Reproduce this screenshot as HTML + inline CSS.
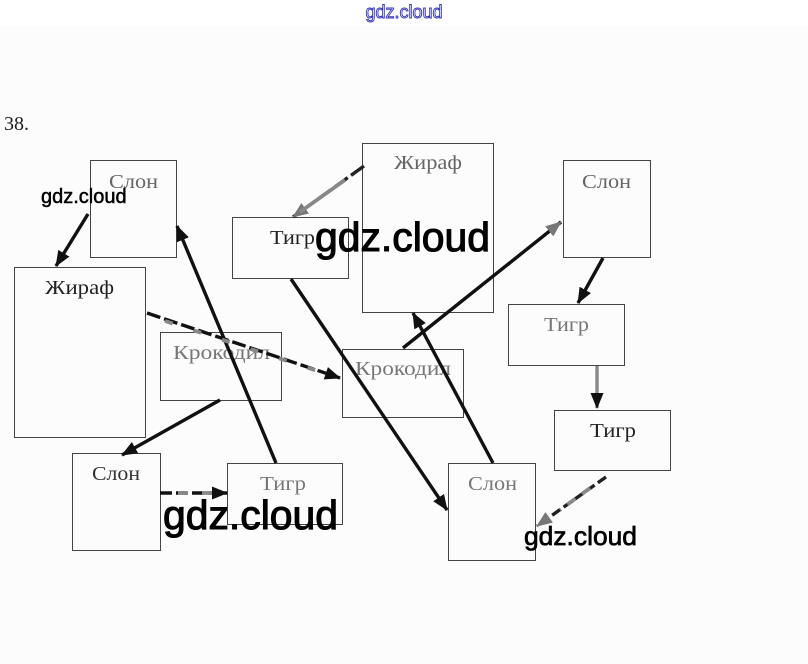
<!DOCTYPE html>
<html><head><meta charset="utf-8"><style>
html,body{margin:0;padding:0;}
body{width:808px;height:664px;overflow:hidden;background:#fcfcfc;}
svg{display:block;}
</style></head><body>
<svg width="808" height="664" viewBox="0 0 808 664" xmlns="http://www.w3.org/2000/svg">
<defs>
<marker id="ah" viewBox="0 0 16 13" refX="15" refY="6.5" markerWidth="16" markerHeight="13" markerUnits="userSpaceOnUse" orient="auto">
<path d="M0,0 L16,6.5 L0,13 z" fill="#111"/>
</marker>
<marker id="ahg" viewBox="0 0 16 13" refX="15" refY="6.5" markerWidth="16" markerHeight="13" markerUnits="userSpaceOnUse" orient="auto">
<path d="M0,0 L16,6.5 L0,13 z" fill="#777"/>
</marker>
</defs>
<rect x="0" y="0" width="808" height="26" fill="#ffffff"/>
<text x="404" y="18" text-anchor="middle" font-family="Liberation Sans, sans-serif" font-size="18" fill="#ffffff" stroke="#3030c0" stroke-width="0.9">gdz.cloud</text>

<text x="4" y="130" font-family="Liberation Serif, serif" font-size="20" fill="#222">38.</text>

<g fill="none" stroke="#444" stroke-width="1">
<rect x="90.5" y="160.5" width="86" height="97"/>
<rect x="14.5" y="267.5" width="131" height="170"/>
<rect x="232.5" y="217.5" width="116" height="61"/>
<rect x="362.5" y="143.5" width="131" height="169"/>
<rect x="563.5" y="160.5" width="87" height="97"/>
<rect x="160.5" y="332.5" width="121" height="68"/>
<rect x="342.5" y="349.5" width="121" height="68"/>
<rect x="508.5" y="304.5" width="116" height="61"/>
<rect x="554.5" y="410.5" width="116" height="60"/>
<rect x="72.5" y="453.5" width="88" height="97"/>
<rect x="227.5" y="463.5" width="115" height="61"/>
<rect x="448.5" y="463.5" width="87" height="97"/>
</g>

<g font-family="Liberation Serif, serif" font-size="20">
<text x="109" y="188" textLength="49" lengthAdjust="spacingAndGlyphs" fill="#666">Слон</text>
<text x="45" y="294" textLength="69" lengthAdjust="spacingAndGlyphs" fill="#222">Жираф</text>
<text x="270" y="244" textLength="45" lengthAdjust="spacingAndGlyphs" fill="#222">Тигр</text>
<text x="394" y="169" textLength="68" lengthAdjust="spacingAndGlyphs" fill="#666">Жираф</text>
<text x="582" y="188" textLength="49" lengthAdjust="spacingAndGlyphs" fill="#666">Слон</text>
<text x="173" y="359" textLength="97" lengthAdjust="spacingAndGlyphs" fill="#777">Крокодил</text>
<text x="355" y="375" textLength="96" lengthAdjust="spacingAndGlyphs" fill="#777">Крокодил</text>
<text x="544" y="331" textLength="45" lengthAdjust="spacingAndGlyphs" fill="#777">Тигр</text>
<text x="590" y="437" textLength="46" lengthAdjust="spacingAndGlyphs" fill="#222">Тигр</text>
<text x="92" y="480" textLength="48" lengthAdjust="spacingAndGlyphs" fill="#333">Слон</text>
<text x="260" y="490" textLength="46" lengthAdjust="spacingAndGlyphs" fill="#777">Тигр</text>
<text x="468" y="490" textLength="49" lengthAdjust="spacingAndGlyphs" fill="#777">Слон</text>
</g>

<g stroke-width="3.4" fill="none" stroke-linecap="butt">
<line x1="88" y1="214" x2="56" y2="266" stroke="#111" marker-end="url(#ah)"/>
<line x1="276" y1="463" x2="177" y2="226" stroke="#111" marker-end="url(#ah)"/>
<line x1="147" y1="313" x2="340" y2="378" stroke="#111" stroke-dasharray="14,4" marker-end="url(#ah)"/>
<line x1="165" y1="321" x2="330" y2="375" stroke="#888" stroke-dasharray="8,22" stroke-width="3.8"/>
<line x1="220" y1="400" x2="122" y2="455" stroke="#111" marker-end="url(#ah)"/>
<line x1="160" y1="493" x2="227" y2="493" stroke="#111" stroke-dasharray="12,4" marker-end="url(#ah)"/>
<line x1="178" y1="493" x2="215" y2="493" stroke="#888" stroke-dasharray="10,14" stroke-width="3.8"/>
<line x1="364" y1="166" x2="293" y2="217" stroke="#222" stroke-dasharray="16,4" marker-end="url(#ahg)"/>
<line x1="345" y1="180" x2="300" y2="212" stroke="#888" stroke-width="3.8"/>
<line x1="291" y1="279" x2="447" y2="510" stroke="#111" marker-end="url(#ah)"/>
<line x1="403" y1="348" x2="561" y2="222" stroke="#111" marker-end="url(#ahg)"/>
<line x1="493" y1="463" x2="413" y2="313" stroke="#111" marker-end="url(#ah)"/>
<line x1="603" y1="258" x2="578" y2="303" stroke="#111" marker-end="url(#ah)"/>
<line x1="597" y1="366" x2="597" y2="408" stroke="#888" marker-end="url(#ah)"/>
<line x1="606" y1="477" x2="537" y2="526" stroke="#222" stroke-dasharray="10,4" marker-end="url(#ahg)"/>
<line x1="590" y1="488" x2="560" y2="510" stroke="#888" stroke-width="3.8" stroke-dasharray="10,8"/>
</g>

<g font-family="Liberation Sans, sans-serif" fill="#000" stroke="#000">
<text x="41" y="203" font-size="20" stroke-width="0.5">gdz.cloud</text>
<text x="315" y="251" font-size="41" stroke-width="1.1" textLength="175" lengthAdjust="spacingAndGlyphs">gdz.cloud</text>
<text x="163" y="529" font-size="41" stroke-width="1.1" textLength="175" lengthAdjust="spacingAndGlyphs">gdz.cloud</text>
<text x="524" y="545" font-size="26" stroke-width="0.7" textLength="113" lengthAdjust="spacingAndGlyphs">gdz.cloud</text>
</g>
</svg>
</body></html>
